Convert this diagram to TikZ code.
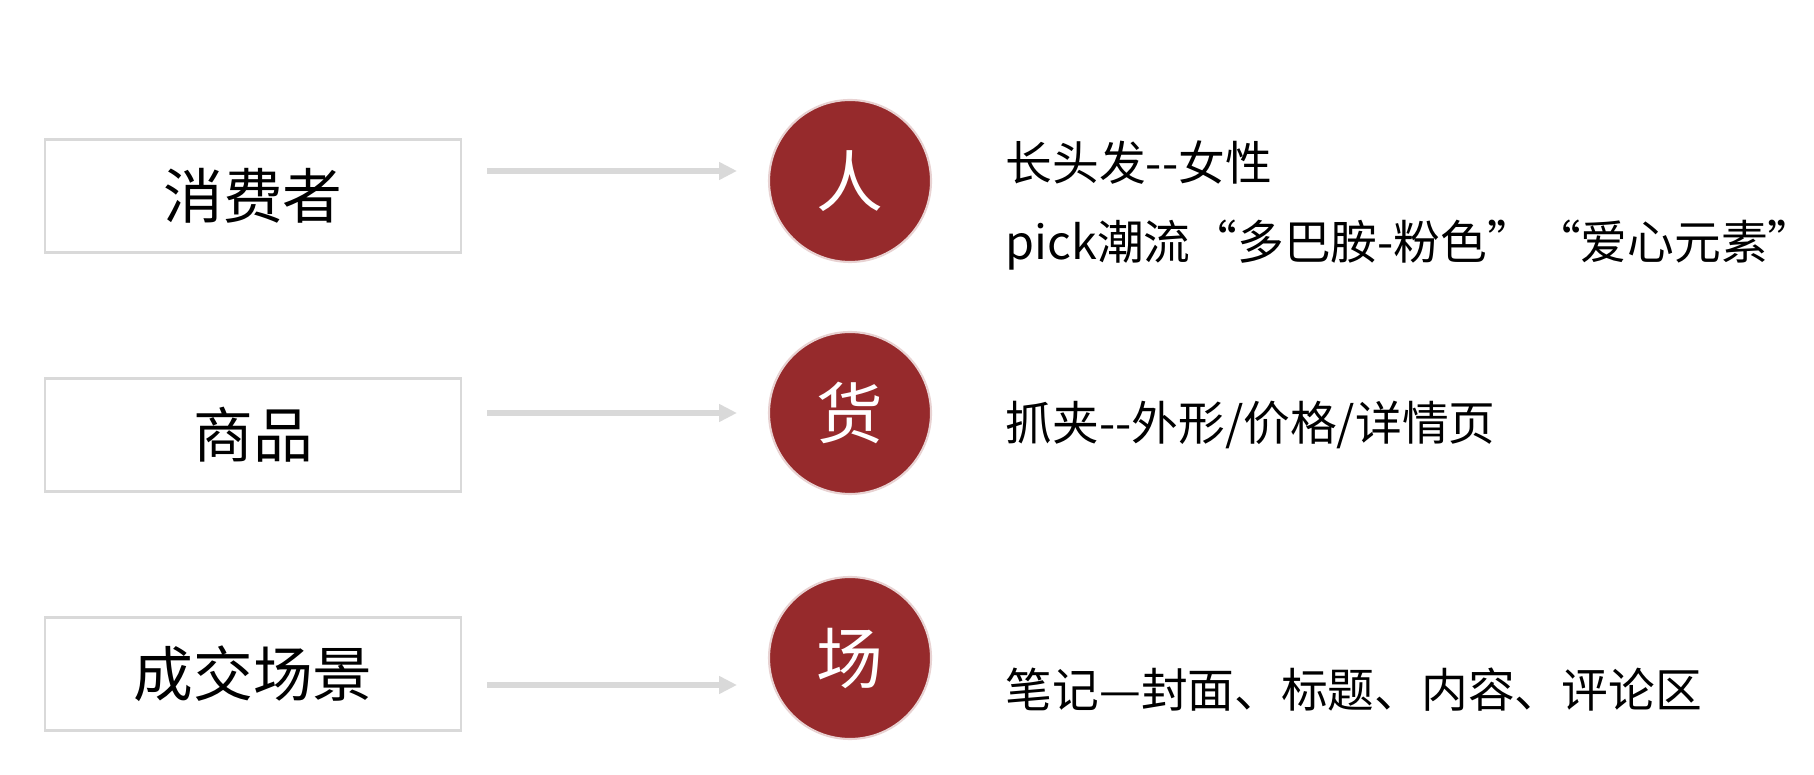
\documentclass[tikz,border=0pt]{standalone}
\usepackage{fontspec}
\newfontfamily\cjk{Noto Sans CJK SC}
\usetikzlibrary{arrows.meta}
\definecolor{boxgray}{HTML}{D9D9D9}
\definecolor{dotred}{HTML}{962A2C}
\definecolor{ringpink}{HTML}{E8D2D2}
\begin{document}
\begin{tikzpicture}[font=\cjk,
    tag/.style={draw=boxgray,line width=0.6pt,minimum width=4.16cm,minimum height=1.13cm,font=\cjk\fontsize{17}{20}\selectfont},
    dot/.style={circle,fill=dotred,draw=ringpink,line width=0.6pt,minimum size=1.62cm,inner sep=0pt,text=white,font=\cjk\fontsize{19}{22}\selectfont},
    note/.style={anchor=west,inner sep=0pt,font=\cjk\fontsize{13.3}{16}\selectfont},
    link/.style={draw=boxgray,line width=1.8pt,-{Triangle[length=0.18cm,width=0.17cm]}}]
  \useasboundingbox (0,0) rectangle (18.14,7.74);
  \node[tag] (who) at (2.53,5.78) {消费者};
  \node[tag] (what) at (2.53,3.39) {商品};
  \node[tag] (where) at (2.53,1.00) {成交场景};
  \node[dot] (ren) at (8.50,5.93) {人};
  \node[dot] (huo) at (8.50,3.61) {货};
  \node[dot] (chang) at (8.50,1.16) {场};
  \coordinate (s1) at (4.87,6.03); \coordinate (e1) at (7.37,6.03);
  \coordinate (s2) at (4.87,3.61); \coordinate (e2) at (7.37,3.61);
  \coordinate (s3) at (4.87,0.89); \coordinate (e3) at (7.37,0.89);
  \draw[link] (s1) -- (e1);
  \draw[link] (s2) -- (e2);
  \draw[link] (s3) -- (e3);
  \node[note] (hair) at (10.05,6.11) {长头发--女性};
  \node[note] (pick) at (10.05,5.29) {pick潮流“多巴胺-粉色”“爱心元素”};
  \node[note] (clip) at (10.05,3.49) {抓夹--外形/价格/详情页};
  \node[note] (memo) at (10.05,0.84) {笔记—封面、标题、内容、评论区};
\end{tikzpicture}
\end{document}
